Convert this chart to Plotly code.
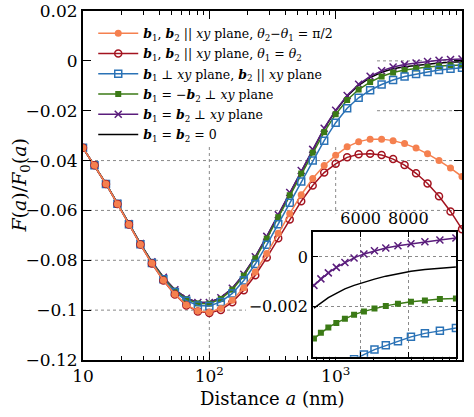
import plotly.graph_objects as go

# ---------------- data ----------------
distance_nm = [10, 12.33, 15.2, 18.74, 23.1, 28.48, 35.11, 43.29, 53.37, 65.79, 81.11,
               100, 123.3, 152, 187.4, 231, 284.8, 351.1, 432.9, 533.7, 657.9, 811.1,
               1000, 1233, 1520, 1874, 2310, 2848, 3511, 4329, 5337, 6579, 8111, 10000]

ratio_parallel_perp_theta = [-0.0349, -0.0419, -0.0494, -0.0574, -0.0656, -0.0737, -0.0812, -0.0880,
                             -0.0936, -0.0979, -0.1003, -0.1008, -0.0993, -0.0960, -0.0910, -0.0847,
                             -0.0773, -0.0692, -0.0613, -0.0537, -0.0472, -0.0420, -0.0379, -0.0345,
                             -0.0324, -0.0314, -0.0314, -0.0320, -0.0332, -0.0350, -0.0373, -0.0400,
                             -0.0430, -0.0464]
ratio_parallel_same_theta = [-0.0349, -0.0419, -0.0494, -0.0574, -0.0656, -0.0737, -0.0813, -0.0881,
                             -0.0937, -0.0981, -0.1005, -0.1011, -0.0999, -0.0968, -0.0920, -0.0860,
                             -0.0789, -0.0712, -0.0636, -0.0563, -0.0500, -0.0448, -0.0413, -0.0387,
                             -0.0375, -0.0373, -0.0378, -0.0394, -0.0418, -0.0451, -0.0492, -0.0543,
                             -0.0604, -0.0675]
ratio_perp_parallel = [-0.0349, -0.0419, -0.0494, -0.0573, -0.0655, -0.0736, -0.0811, -0.0876,
                       -0.0927, -0.0962, -0.0981, -0.0983, -0.0967, -0.0933, -0.0881, -0.0815,
                       -0.0738, -0.0655, -0.0569, -0.0484, -0.0400, -0.0320, -0.0248, -0.0190,
                       -0.0148, -0.0118, -0.0095, -0.0077, -0.0063, -0.0053, -0.0045, -0.0037,
                       -0.0032, -0.0028]
ratio_antiparallel_perp = [-0.0349, -0.0419, -0.0493, -0.0572, -0.0654, -0.0734, -0.0808, -0.0871,
                           -0.0922, -0.0956, -0.0973, -0.0974, -0.0955, -0.0918, -0.0862, -0.0793,
                           -0.0713, -0.0627, -0.0539, -0.0452, -0.0368, -0.0286, -0.0214, -0.0157,
                           -0.0115, -0.0085, -0.0063, -0.0047, -0.0037, -0.00304, -0.00247, -0.00206,
                           -0.00179, -0.00166]
ratio_equal_perp = [-0.0349, -0.0419, -0.0493, -0.0572, -0.0653, -0.0733, -0.0806, -0.0868,
                    -0.0918, -0.0952, -0.0969, -0.0969, -0.0950, -0.0912, -0.0856, -0.0786,
                    -0.0704, -0.0617, -0.0528, -0.0440, -0.0355, -0.0270, -0.0198, -0.0139,
                    -0.0094, -0.0062, -0.0040, -0.0025, -0.0015, -0.00088, -0.00022, 0.00025,
                    0.00053, 0.00076]
ratio_no_field = [-0.0349, -0.0419, -0.0493, -0.0572, -0.0653, -0.0733, -0.0806, -0.0868,
                  -0.0918, -0.0952, -0.0969, -0.0969, -0.0950, -0.0912, -0.0856, -0.0786,
                  -0.0705, -0.0618, -0.0529, -0.0441, -0.0356, -0.0272, -0.0200, -0.0142,
                  -0.0098, -0.0067, -0.0046, -0.0032, -0.0024, -0.00183, -0.00128, -0.00089,
                  -0.00057, -0.0004]

inset_distance_nm = [4037, 4329, 4642, 4977, 5337, 5722, 6136, 6579, 7055, 7565, 8111, 8697, 9326, 10000]
inset_equal_perp = [-0.00114, -0.00088, -0.00064, -0.00042, -0.00022, -0.00004, 0.00012, 0.00025,
                    0.00036, 0.00045, 0.00053, 0.00061, 0.00068, 0.00076]
inset_no_field = [-0.00205, -0.00183, -0.00163, -0.00146, -0.00128, -0.00114, -0.00101, -0.00089,
                  -0.00077, -0.00067, -0.00057, -0.0005, -0.00044, -0.0004]
inset_antiparallel_perp = [-0.00327, -0.00304, -0.00282, -0.00264, -0.00247, -0.00231, -0.00218,
                           -0.00206, -0.00196, -0.00187, -0.00179, -0.00174, -0.00168, -0.00166]
inset_perp_parallel = [-0.0054, -0.0051, -0.0048, -0.0045, -0.0043, -0.0041, -0.00391, -0.00371,
                       -0.00354, -0.00338, -0.0032, -0.00306, -0.00296, -0.00284]

main_x_tickvals = [10, 100, 1000, 10000]
main_x_ticktext = ["10", "10<sup>2</sup>", "10<sup>3</sup>", "10<sup>4</sup>"]
main_x_minor = [20, 30, 40, 50, 60, 70, 80, 90, 200, 300, 400, 500, 600, 700, 800, 900,
                2000, 3000, 4000, 5000, 6000, 7000, 8000, 9000]
main_y_tickvals = [0.02, 0, -0.02, -0.04, -0.06, -0.08, -0.1, -0.12]
main_y_ticktext = ["0.02", "0", "\u22120.02", "\u22120.04", "\u22120.06", "\u22120.08", "\u22120.1", "\u22120.12"]
inset_x_tickvals = [6000, 8000]
inset_x_ticktext = ["6000", "8000"]
inset_y_tickvals = [0, -0.002]
inset_y_ticktext = ["0", "\u22120.002"]

# ---------------- styling ----------------
FONT = "DejaVu Serif"
ORANGE = "#F5804F"
DARKRED = "#A3131F"
BLUE = "#2A72B6"
GREEN = "#3B7A16"
PURPLE = "#5A1D7C"
BLACK = "#000000"
GRIDC = "#8a8a8a"

B1 = "<b><i>b</i></b><sub>1</sub>"
B2 = "<b><i>b</i></b><sub>2</sub>"
XY = "<i>xy</i>"
names = {
    "orange": f"{B1}, {B2} || {XY} plane, <i>θ</i><sub>2</sub>\u2212<i>θ</i><sub>1</sub> = π/2",
    "red": f"{B1}, {B2} || {XY} plane, <i>θ</i><sub>1</sub> = <i>θ</i><sub>2</sub>",
    "blue": f"{B1} \u22a5 {XY} plane, {B2} || {XY} plane",
    "green": f"{B1} = \u2212{B2} \u22a5 {XY} plane",
    "purple": f"{B1} = {B2} \u22a5 {XY} plane",
    "black": f"{B1} = {B2} = 0",
}

fig = go.Figure()

def main_trace(y, key, rank, **kw):
    fig.add_trace(go.Scatter(x=distance_nm, y=y, name=names[key], legendrank=rank,
                             legendgroup=key, **kw))

main_trace(ratio_no_field, "black", 6, mode="lines", line=dict(color=BLACK, width=1.5))
main_trace(ratio_equal_perp, "purple", 5, mode="lines+markers", line=dict(color=PURPLE, width=1.5),
           marker=dict(symbol="x-thin-open", size=7, line=dict(color=PURPLE, width=1.5)))
main_trace(ratio_antiparallel_perp, "green", 4, mode="lines+markers", line=dict(color=GREEN, width=1.5),
           marker=dict(symbol="square", size=6, color=GREEN))
main_trace(ratio_perp_parallel, "blue", 3, mode="lines+markers", line=dict(color=BLUE, width=1.5),
           marker=dict(symbol="square-open", size=7, color=BLUE, line=dict(width=1.5)))
main_trace(ratio_parallel_same_theta, "red", 2, mode="lines+markers", line=dict(color=DARKRED, width=1.5),
           marker=dict(symbol="circle-open", size=7, color=DARKRED, line=dict(width=1.5)))
main_trace(ratio_parallel_perp_theta, "orange", 1, mode="lines+markers", line=dict(color=ORANGE, width=1.5),
           marker=dict(symbol="circle", size=7, color=ORANGE))

# inset
fig.add_trace(go.Scatter(x=inset_distance_nm, y=inset_no_field, mode="lines", xaxis="x2", yaxis="y2",
                         line=dict(color=BLACK, width=1.5), showlegend=False))
fig.add_trace(go.Scatter(x=inset_distance_nm, y=inset_equal_perp, mode="lines+markers", xaxis="x2", yaxis="y2",
                         line=dict(color=PURPLE, width=1.5),
                         marker=dict(symbol="x-thin-open", size=7, line=dict(color=PURPLE, width=1.5)),
                         showlegend=False))
fig.add_trace(go.Scatter(x=inset_distance_nm, y=inset_antiparallel_perp, mode="lines+markers", xaxis="x2", yaxis="y2",
                         line=dict(color=GREEN, width=1.5),
                         marker=dict(symbol="square", size=6, color=GREEN), showlegend=False))
fig.add_trace(go.Scatter(x=inset_distance_nm, y=inset_perp_parallel, mode="lines+markers", xaxis="x2", yaxis="y2",
                         line=dict(color=BLUE, width=1.5),
                         marker=dict(symbol="square-open", size=7, color=BLUE, line=dict(width=1.5)),
                         showlegend=False))

# main grid drawn as dotted shapes (below traces); white panels behind legend and inset
shapes = []
for frac in (1 / 3, 2 / 3):  # decades 10^2 and 10^3 on the 10..10^4 log axis
    shapes.append(dict(type="line", xref="x domain", yref="y domain", x0=frac, x1=frac, y0=0, y1=1,
                       line=dict(color=GRIDC, width=1, dash="dot"), layer="below"))
for yv in main_y_tickvals[1:-1]:
    shapes.append(dict(type="line", xref="x domain", yref="y", x0=0, x1=1, y0=yv, y1=yv,
                       line=dict(color=GRIDC, width=1, dash="dot"), layer="below"))
shapes.append(dict(type="rect", xref="x domain", yref="y domain", x0=0.0, x1=0.775, y0=0.612, y1=1.0,
                   fillcolor="white", line=dict(width=0), layer="below"))
shapes.append(dict(type="rect", xref="x domain", yref="y domain", x0=0.43, x1=1.0, y0=0.0, y1=0.42,
                   fillcolor="white", line=dict(width=0), layer="below"))

fig.update_layout(
    width=474, height=417,
    margin=dict(l=83, r=12, t=11, b=57, autoexpand=False),
    paper_bgcolor="white", plot_bgcolor="white",
    font=dict(family=FONT, size=17, color="black"),
    xaxis=dict(type="log", range=[1, 4], tickvals=main_x_tickvals, ticktext=main_x_ticktext,
               ticks="inside", ticklen=8, tickwidth=1.2, tickcolor="black",
               showline=True, linecolor="black", linewidth=2, mirror="allticks",
               minor=dict(tickvals=main_x_minor, ticks="inside", ticklen=4, tickwidth=1, tickcolor="black",
                          showgrid=False),
               zeroline=False, showgrid=False, automargin=False),
    yaxis=dict(range=[-0.12, 0.02], tickvals=main_y_tickvals, ticktext=main_y_ticktext,
               ticks="inside", ticklen=8, tickwidth=1.2, tickcolor="black",
               showline=True, linecolor="black", linewidth=2, mirror="allticks",
               zeroline=False, showgrid=False, automargin=False),
    xaxis2=dict(domain=[0.607, 0.984], anchor="y2", side="top", range=[4000, 10000],
                tickvals=inset_x_tickvals, ticktext=inset_x_ticktext,
                ticks="inside", ticklen=5, tickcolor="black",
                showline=True, linecolor="black", linewidth=2, mirror="allticks",
                zeroline=False, tickfont=dict(size=16), automargin=False,
                showgrid=True, gridcolor=GRIDC, griddash="dot", gridwidth=1),
    yaxis2=dict(domain=[0.009, 0.367], anchor="x2", range=[-0.004, 0.001],
                tickvals=inset_y_tickvals, ticktext=inset_y_ticktext,
                ticks="inside", ticklen=5, tickcolor="black",
                showline=True, linecolor="black", linewidth=2, mirror="allticks",
                zeroline=False, tickfont=dict(size=16), automargin=False,
                showgrid=True, gridcolor=GRIDC, griddash="dot", gridwidth=1),
    legend=dict(x=0.027, y=0.978, xanchor="left", yanchor="top", bgcolor="rgba(0,0,0,0)",
                font=dict(size=12.5), tracegroupgap=1, itemwidth=40),
    annotations=[
        dict(text="Distance <i>a</i> (nm)", xref="paper", yref="paper", x=0.5, y=-0.109,
             xanchor="center", yanchor="middle", showarrow=False, font=dict(size=18)),
        dict(text="<i>F</i>(<i>a</i>)/<i>F</i><sub>0</sub>(<i>a</i>)", xref="paper", yref="paper",
             x=-0.166, y=0.5, xanchor="center", yanchor="middle", textangle=-90,
             showarrow=False, font=dict(size=19)),
    ],
    shapes=shapes,
)

fig.write_html("out.html", config={"displayModeBar": False},
               post_script="document.body.style.margin='0px';")
